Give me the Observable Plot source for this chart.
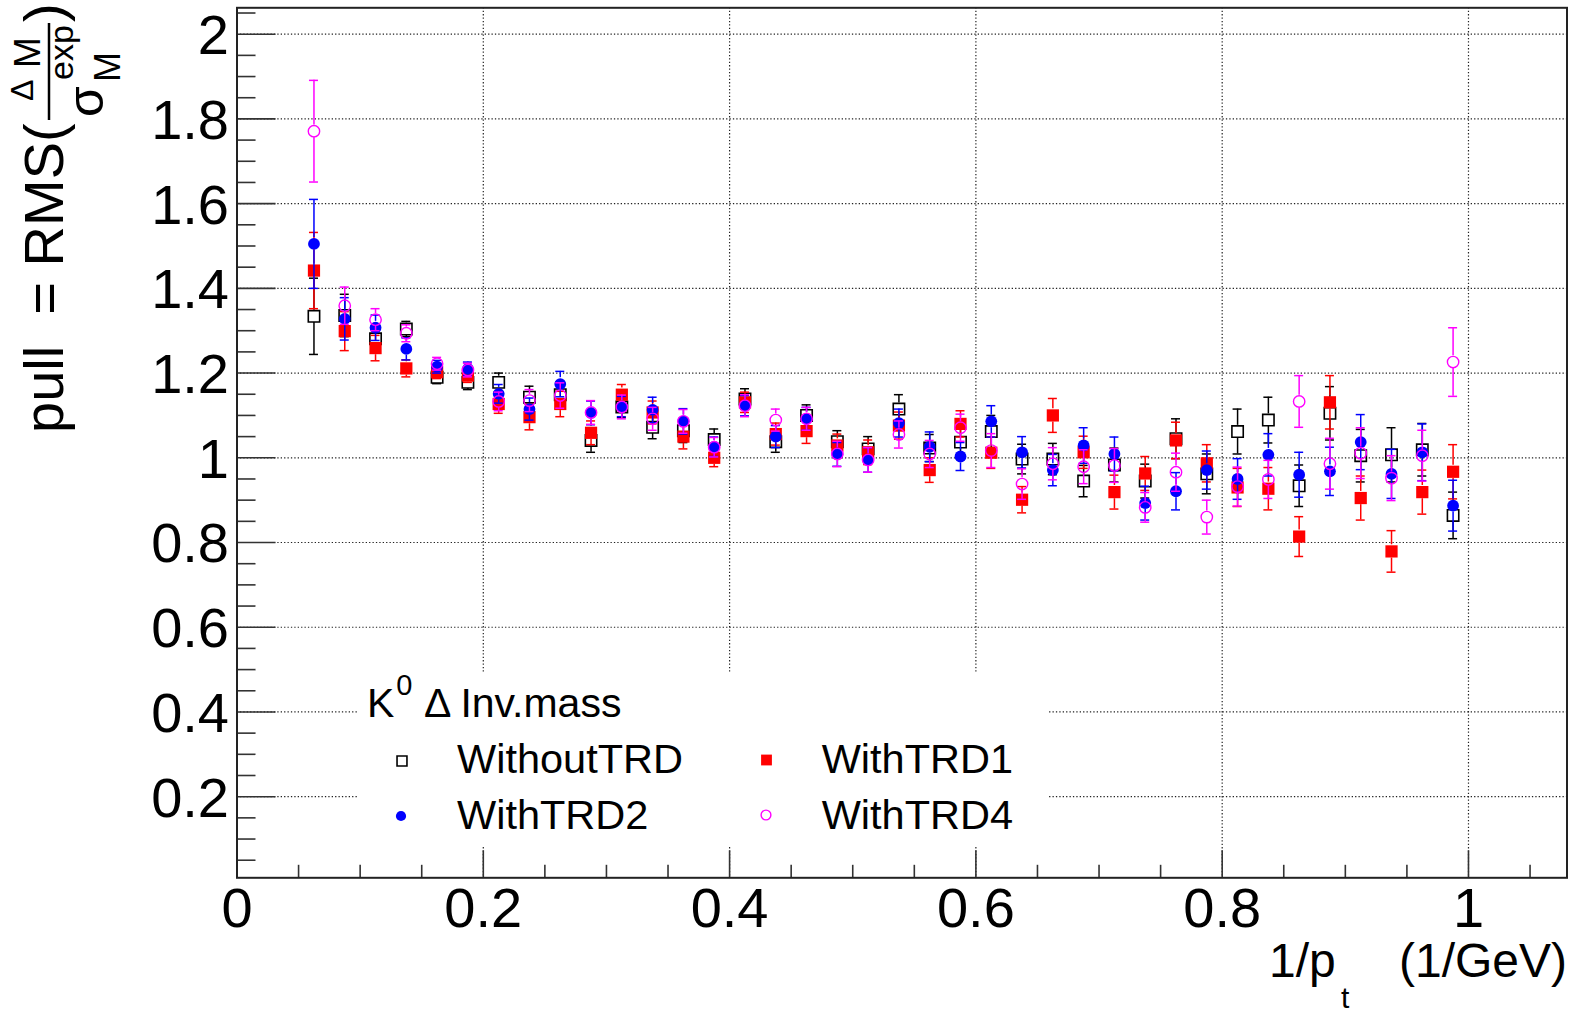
<!DOCTYPE html>
<html><head><meta charset="utf-8">
<script src="https://cdn.jsdelivr.net/npm/d3@7"></script>
<script src="https://cdn.jsdelivr.net/npm/@observablehq/plot@0.6"></script>
<style>html,body{margin:0;padding:0;background:#fff} svg{display:block}</style>
</head><body><div id="chart"></div>
<script>
// ---- data ----
const xs = [0.0625,0.0875,0.1125,0.1375,0.1625,0.1875,0.2125,0.2375,0.2625,0.2875,0.3125,0.3375,0.3625,0.3875,0.4125,0.4375,0.4625,0.4875,0.5125,0.5375,0.5625,0.5875,0.6125,0.6375,0.6625,0.6875,0.7125,0.7375,0.7625,0.7875,0.8125,0.8375,0.8625,0.8875,0.9125,0.9375,0.9625,0.9875];
const withoutTRD = [1.334,1.336,1.281,1.304,1.19,1.178,1.178,1.143,1.149,1.041,1.12,1.072,1.064,1.043,1.139,1.038,1.10,1.038,1.021,1.115,1.023,1.037,1.062,0.997,0.997,0.945,0.983,0.945,1.045,0.962,1.062,1.089,0.934,1.105,1.005,1.007,1.019,0.864];
const withTRD1 = [1.442,1.299,1.259,1.211,1.202,1.194,1.127,1.096,1.127,1.059,1.149,1.107,1.05,1.0,1.131,1.056,1.063,1.029,1.013,1.076,0.971,1.08,1.012,0.901,1.10,1.013,0.919,0.963,1.041,0.987,0.93,0.927,0.814,1.131,0.905,0.779,0.919,0.967];
const withTRD2 = [1.505,1.328,1.307,1.257,1.215,1.21,1.151,1.115,1.174,1.106,1.121,1.113,1.086,1.026,1.123,1.05,1.092,1.008,0.995,1.082,1.026,1.003,1.086,1.013,0.971,1.029,1.009,0.893,0.921,0.971,0.95,1.007,0.96,0.968,1.037,0.962,1.013,0.887];
const withTRD4 = [1.771,1.359,1.326,1.294,1.222,1.207,1.133,1.135,1.147,1.107,1.12,1.092,1.086,1.025,1.123,1.089,1.092,1.009,0.995,1.055,1.009,1.071,1.017,0.938,0.986,0.979,0.982,0.883,0.966,0.86,0.932,0.949,1.133,0.986,1.011,0.952,1.005,1.226];
const errWithout = [0.09,0.05,0.03,0.018,0.015,0.017,0.022,0.026,0.03,0.028,0.025,0.027,0.028,0.025,0.024,0.025,0.025,0.026,0.029,0.034,0.032,0.032,0.038,0.035,0.037,0.037,0.04,0.04,0.047,0.047,0.053,0.054,0.049,0.063,0.062,0.064,0.062,0.055];
const errTRD1 = [0.09,0.046,0.03,0.02,0.015,0.016,0.022,0.03,0.03,0.028,0.024,0.027,0.029,0.021,0.024,0.026,0.029,0.027,0.029,0.032,0.029,0.031,0.037,0.031,0.04,0.038,0.04,0.04,0.043,0.044,0.045,0.05,0.047,0.063,0.052,0.049,0.052,0.064];
const errTRD2 = [0.105,0.05,0.03,0.026,0.015,0.016,0.022,0.026,0.03,0.028,0.024,0.03,0.03,0.023,0.024,0.026,0.027,0.028,0.029,0.033,0.035,0.033,0.037,0.037,0.037,0.042,0.04,0.04,0.044,0.045,0.048,0.05,0.053,0.057,0.065,0.058,0.067,0.06];
const errTRD4 = [0.12,0.044,0.026,0.02,0.015,0.016,0.022,0.026,0.03,0.028,0.028,0.027,0.028,0.023,0.026,0.026,0.027,0.03,0.029,0.032,0.032,0.032,0.04,0.036,0.038,0.04,0.04,0.035,0.045,0.04,0.046,0.045,0.061,0.06,0.06,0.053,0.06,0.081];
const seriesNames = ["WithoutTRD","WithTRD1","WithTRD2","WithTRD4"];
const xMajor = [0,0.2,0.4,0.6,0.8,1];
const xLabels = ["0","0.2","0.4","0.6","0.8","1"];
const yMajor = [0.2,0.4,0.6,0.8,1,1.2,1.4,1.6,1.8,2];
const yLabels = ["0.2","0.4","0.6","0.8","1","1.2","1.4","1.6","1.8","2"];
const xMinor = d3.range(1, 22).map(i => i * 0.05).filter(v => Math.abs(v / 0.2 - Math.round(v / 0.2)) > 1e-6);
const yMinor = d3.range(1, 42).map(i => i * 0.05).filter(v => Math.abs(v / 0.2 - Math.round(v / 0.2)) > 1e-6);

// ---- styles ----
const FONT = "'Liberation Sans', Arial, Helvetica, sans-serif";
const W = 1575, H = 1011;
const mL = 236.5, mR = 8.5, mT = 7.3, mB = 133.7;
const innerW = W - mL - mR, innerH = H - mT - mB;
const styles = [
  {values: withoutTRD, errors: errWithout, color: "#000000", symbol: "square", fill: "none", r: 6.4, sw: 1.6},
  {values: withTRD1, errors: errTRD1, color: "#ff0000", symbol: "square", fill: "#ff0000", r: 6.9, sw: 0},
  {values: withTRD2, errors: errTRD2, color: "#0000ff", symbol: "circle", fill: "#0000ff", r: 5.9, sw: 0},
  {values: withTRD4, errors: errTRD4, color: "#ff00ff", symbol: "circle", fill: "none", r: 5.7, sw: 1.4}
];

const marks = [
  Plot.ruleY(yMajor, {stroke: "#222", strokeWidth: 1.2, strokeDasharray: "1.3,2.1"}),
  Plot.ruleX(xMajor.filter(d => d > 0), {stroke: "#222", strokeWidth: 1.2, strokeDasharray: "1.3,2.1"})
];
styles.forEach((s, k) => {
  const rows = xs.map((x, i) => ({x, v: s.values[i], e: s.errors[i], series: seriesNames[k]}));
  const half = s.symbol === "square" ? s.r * 0.886 + 0.5 : s.r + 0.5;
  marks.push(
    Plot.ruleX(rows, {x: "x", y1: d => d.v + d.e, y2: "v", stroke: s.color, strokeWidth: 1.5, insetBottom: half}),
    Plot.ruleX(rows, {x: "x", y1: "v", y2: d => d.v - d.e, stroke: s.color, strokeWidth: 1.5, insetTop: half}),
    Plot.ruleY(rows, {y: d => d.v + d.e, x1: "x", x2: "x", insetLeft: -4.5, insetRight: -4.5, stroke: s.color, strokeWidth: 1.5}),
    Plot.ruleY(rows, {y: d => d.v - d.e, x1: "x", x2: "x", insetLeft: -4.5, insetRight: -4.5, stroke: s.color, strokeWidth: 1.5}),
    Plot.dot(rows, {x: "x", y: "v", symbol: s.symbol, r: s.r, fill: s.fill,
      stroke: s.fill === "none" ? s.color : "none", strokeWidth: s.sw})
  );
});
marks.push(
  Plot.ruleY(yMajor, {stroke: "#333", strokeWidth: 1.6, insetRight: innerW - 39}),
  Plot.ruleY(yMinor, {stroke: "#333", strokeWidth: 1.6, insetRight: innerW - 19}),
  Plot.ruleX(xMajor, {stroke: "#333", strokeWidth: 1.6, insetTop: innerH - 27}),
  Plot.ruleX(xMinor, {stroke: "#333", strokeWidth: 1.6, insetTop: innerH - 12.5}),
  Plot.text(yMajor, {y: d => d, frameAnchor: "left", textAnchor: "end", dx: -8, dy: 2,
    text: (d, i) => yLabels[i], fontSize: 56, fontFamily: FONT, fill: "#000"}),
  Plot.text(xMajor, {x: d => d, frameAnchor: "bottom", lineAnchor: "top", dy: 9,
    text: (d, i) => xLabels[i], fontSize: 56, fontFamily: FONT, fill: "#000"}),
  Plot.frame({stroke: "#222", strokeWidth: 2})
);

const plot = Plot.plot({
  width: W, height: H,
  marginLeft: mL, marginRight: mR, marginTop: mT, marginBottom: mB,
  x: {domain: [0, 1.08], axis: null},
  y: {domain: [0.0085, 2.0623], axis: null},
  style: {background: "#fff", fontFamily: FONT, overflow: "visible"},
  marks
});
document.getElementById("chart").appendChild(plot);

// ---- overlays: legend, axis titles ----
const svg = d3.select(plot);
const sym = (type, size) => d3.symbol().type(type).size(size)();

// legend
const lg = svg.append("g").attr("font-family", FONT).attr("fill", "#000").attr("text-anchor", "start");
lg.append("rect").attr("x", 357).attr("y", 673).attr("width", 691).attr("height", 174).attr("fill", "#fff");
const ht = lg.append("text").attr("x", 367).attr("y", 717).attr("font-size", 41);
ht.append("tspan").text("K");
ht.append("tspan").attr("font-size", 29).attr("dy", -22).attr("dx", 2).text("0");
ht.append("tspan").attr("dy", 22).text("\u00A0Δ Inv.mass");
const entries = [
  {name: seriesNames[0], mx: 402, my: 761, tx: 457, ty: 773, s: styles[0]},
  {name: seriesNames[1], mx: 766.5, my: 760, tx: 821.7, ty: 773, s: styles[1]},
  {name: seriesNames[2], mx: 401, my: 816, tx: 457, ty: 829, s: styles[2]},
  {name: seriesNames[3], mx: 766, my: 815, tx: 821.7, ty: 829, s: styles[3]}
];
entries.forEach(e => {
  lg.append("path")
    .attr("d", sym(e.s.symbol === "square" ? d3.symbolSquare : d3.symbolCircle, Math.PI * (e.s.r - 0.8) ** 2))
    .attr("transform", `translate(${e.mx},${e.my})`)
    .attr("fill", e.s.fill)
    .attr("stroke", e.s.fill === "none" ? e.s.color : "none")
    .attr("stroke-width", e.s.sw || 0);
  lg.append("text").attr("x", e.tx).attr("y", e.ty).attr("font-size", 41.5).text(e.name);
});

// y-axis title (rotated)
const yt = svg.append("g").attr("transform", "translate(63,880) rotate(-90)")
  .attr("font-family", FONT).attr("fill", "#000").attr("text-anchor", "start");
yt.append("text").attr("x", 447).attr("y", 0).attr("font-size", 56).text("pull\u00A0\u00A0=\u00A0RMS(");
yt.append("text").attr("x", 779).attr("y", -30).attr("font-size", 32).text("Δ");
yt.append("text").attr("x", 812).attr("y", -23).attr("font-size", 37).text("M");
yt.append("line").attr("x1", 760).attr("x2", 857).attr("y1", -14).attr("y2", -14)
  .attr("stroke", "#000").attr("stroke-width", 2.5);
yt.append("text").attr("x", 763).attr("y", 40).attr("font-size", 50).text("σ");
yt.append("text").attr("x", 800).attr("y", 10).attr("font-size", 34).text("exp");
yt.append("text").attr("x", 798).attr("y", 57).attr("font-size", 36).text("M");
yt.append("text").attr("x", 858).attr("y", 0).attr("font-size", 56).text(")");

// x-axis title
const xt = svg.append("g").attr("font-family", FONT).attr("fill", "#000").attr("text-anchor", "start");
xt.append("text").attr("x", 1269).attr("y", 977).attr("font-size", 48).text("1/p");
xt.append("text").attr("x", 1341).attr("y", 1008).attr("font-size", 30).text("t");
xt.append("text").attr("x", 1567).attr("y", 977).attr("font-size", 48).attr("text-anchor", "end").text("(1/GeV)");
</script>
</body></html>
